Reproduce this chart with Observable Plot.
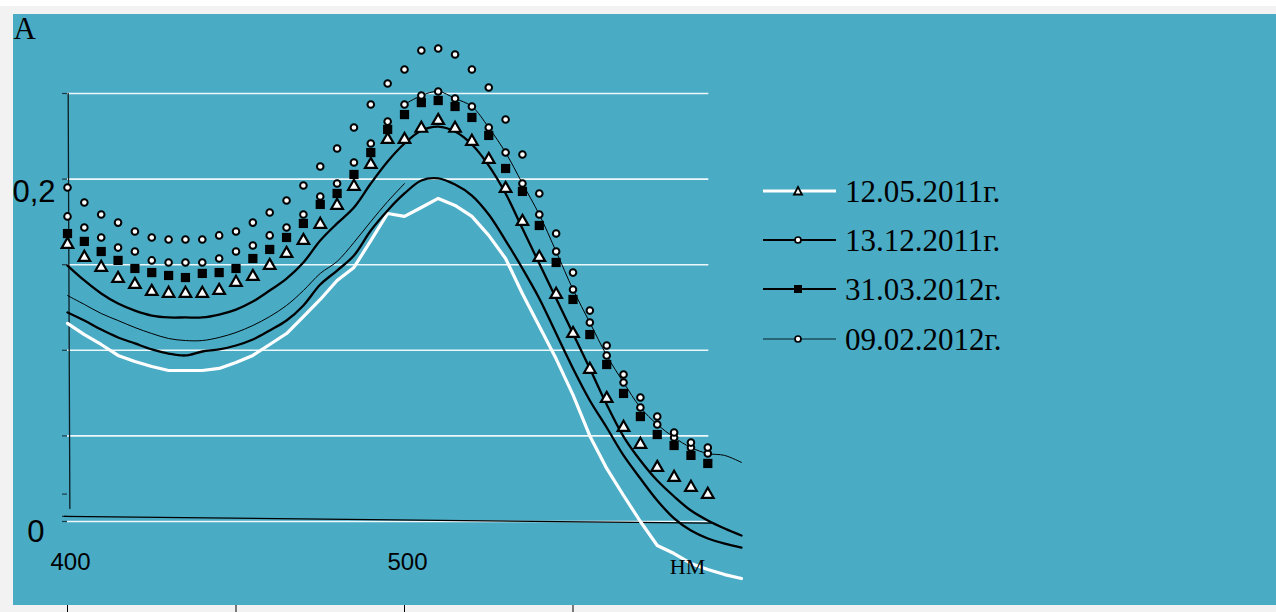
<!DOCTYPE html>
<html>
<head>
<meta charset="utf-8">
<script src="https://cdn.jsdelivr.net/npm/d3@7"></script>
<script src="https://cdn.jsdelivr.net/npm/@observablehq/plot@0.6"></script>
<style>
  html, body { margin: 0; padding: 0; width: 1276px; height: 612px; overflow: hidden; background: #f2f2f2; }
  #topband { position: absolute; left: 0; top: 0; width: 1276px; height: 6px; background: #ffffff; }
  #panel { position: absolute; left: 13px; top: 14px; width: 1263px; height: 591px; background: #4aabc5; }
  #chart { position: absolute; left: 0; top: 0; }
  #legend { position: absolute; left: 763px; top: 0; font-family: "Liberation Serif", "Times New Roman", serif; font-size: 31px; color: #000; }
  .row { position: absolute; left: 0; width: 300px; height: 40px; }
  .row svg { position: absolute; left: 0; top: 0; }
  .row span { position: absolute; left: 82px; top: 1px; line-height: 40px; white-space: nowrap; }
</style>
</head>
<body>
<div id="topband"></div>
<div id="panel"></div>
<div id="chart"></div>
<div id="legend"></div>
<script>
// ---------- data (wavelength, nm ; absorbance A) ----------
const markerNm = [400,405,410,415,420,425,430,435,440,445,450,455,460,465,470,475,480,485,490,495,500,505,510,515,520,525,530,535,540,545,550,555,560,565,570,575,580,585,590];

const triangles12052011 = [0.1618,0.1542,0.1484,0.1419,0.1384,0.1343,0.1332,0.1332,0.1332,0.1349,0.1396,0.1431,0.1495,0.1565,0.1641,0.1735,0.1846,0.1957,0.2085,0.2231,0.2231,0.2296,0.2342,0.2296,0.2220,0.2114,0.1945,0.1752,0.1542,0.1326,0.1098,0.0888,0.0718,0.0549,0.0450,0.0315,0.0257,0.0199,0.0158];

const circles13122011 = [0.1951,0.1863,0.1793,0.1746,0.1694,0.1659,0.1647,0.1647,0.1647,0.1671,0.1694,0.1746,0.1805,0.1875,0.1963,0.2074,0.2179,0.2301,0.2436,0.2558,0.2640,0.2751,0.2763,0.2728,0.2640,0.2535,0.2348,0.2144,0.1916,0.1682,0.1454,0.1232,0.1028,0.0859,0.0724,0.0613,0.0520,0.0461,0.0432];

const squares31032012 = [0.1682,0.1636,0.1577,0.1525,0.1478,0.1454,0.1437,0.1425,0.1449,0.1454,0.1478,0.1536,0.1589,0.1659,0.1741,0.1852,0.1916,0.2027,0.2155,0.2290,0.2377,0.2447,0.2459,0.2424,0.2360,0.2255,0.2062,0.1928,0.1729,0.1513,0.1297,0.1092,0.0917,0.0748,0.0613,0.0508,0.0444,0.0386,0.0339];

const circles09022012 = [0.1782,0.1717,0.1659,0.1600,0.1577,0.1525,0.1513,0.1513,0.1513,0.1536,0.1577,0.1612,0.1671,0.1717,0.1793,0.1898,0.1974,0.2097,0.2208,0.2336,0.2436,0.2488,0.2512,0.2471,0.2424,0.2301,0.2155,0.1974,0.1793,0.1577,0.1355,0.1162,0.0970,0.0812,0.0666,0.0567,0.0491,0.0432,0.0397];

const lineNm = [400,405,410,415,420,425,430,435,440,445,450,455,460,465,470,475,480,485,490,495,500,505,510,515,520,525,530,535,540,545,550,555,560,565,570,575,580,585,590,595,600];

const whiteLine = [0.1157,0.1092,0.1034,0.0970,0.0935,0.0905,0.0882,0.0882,0.0882,0.0894,0.0929,0.0970,0.1034,0.1098,0.1197,0.1297,0.1408,0.1484,0.1641,0.1799,0.1782,0.1834,0.1887,0.1846,0.1782,0.1671,0.1536,0.1330,0.1140,0.0950,0.0740,0.0500,0.0310,0.0152,0.0000,-0.0140,-0.0187,-0.0245,-0.0280,-0.0310,-0.0333];

const blackLineA = [0.1221,0.1174,0.1121,0.1075,0.1040,0.1005,0.0981,0.0970,0.0993,0.1005,0.1028,0.1063,0.1116,0.1174,0.1262,0.1384,0.1466,0.1554,0.1700,0.1817,0.1916,0.1992,0.2004,0.1968,0.1904,0.1793,0.1641,0.1478,0.1303,0.1098,0.0894,0.0707,0.0549,0.0386,0.0251,0.0123,0.0018,-0.0053,-0.0099,-0.0129,-0.0152];

const blackLineB = [0.1495,0.1408,0.1332,0.1273,0.1232,0.1203,0.1192,0.1192,0.1192,0.1209,0.1238,0.1285,0.1349,0.1419,0.1513,0.1641,0.1741,0.1834,0.1974,0.2103,0.2208,0.2284,0.2307,0.2278,0.2202,0.2079,0.1916,0.1711,0.1507,0.1303,0.1098,0.0894,0.0683,0.0496,0.0356,0.0239,0.0146,0.0064,0.0006,-0.0041,-0.0082];

const thinLineNm = [400,405,410,415,420,425,430,435,440,445,450,455,460,465,470,475,480,485,490,495,500];
const thinLine = [0.1320,0.1268,0.1215,0.1174,0.1133,0.1098,0.1069,0.1057,0.1057,0.1075,0.1104,0.1145,0.1197,0.1262,0.1349,0.1449,0.1519,0.1630,0.1752,0.1869,0.1974];

const thin0902Nm = [500,505,510,515,520,525,530,535,540,545,550,555,560,565,570,575,580,585,590,595,600];
const thin0902 = [0.2436,0.2488,0.2512,0.2471,0.2424,0.2301,0.2155,0.1974,0.1793,0.1577,0.1355,0.1162,0.0970,0.0812,0.0666,0.0567,0.0491,0.0432,0.0397,0.0386,0.0345];

const baselineNm = [399, 591];
const baselineA = [0.003, -0.001];
const yAxisNm = [400.2, 400.7];
const yAxisA = [0.25, 0.0076];

const gridValues = [0, 0.05, 0.1, 0.15, 0.2, 0.25];
const yTickValues = [0, 0.003, 0.016, 0.05, 0.1, 0.15, 0.2, 0.25];
const xTickValues = [400, 450, 500, 550];
const xTickLabels = [400, 500];
const yLabelUpper = [{v: 0.2, t: "0,2"}];
const yLabelZero = [{v: 0, t: "0"}];
const seriesNames = ["12.05.2011г.", "13.12.2011г.", "31.03.2012г.", "09.02.2012г."];

// ---------- build tables ----------
const pts = (xs, ys) => xs.map((x, i) => ({x, y: ys[i]}));
const triData = pts(markerNm, triangles12052011);
const c1Data = pts(markerNm, circles13122011);
const sqData = pts(markerNm, squares31032012);
const c2Data = pts(markerNm, circles09022012);

const serif = "Liberation Serif, Times New Roman, serif";
const sans = "Liberation Sans, Arial, sans-serif";

const chart = Plot.plot({
  width: 1276,
  height: 612,
  marginLeft: 67,
  marginRight: 535,
  marginTop: 93,
  marginBottom: 91,
  style: {background: "transparent", overflow: "visible"},
  x: {domain: [400, 600], axis: null},
  y: {domain: [0, 0.25], axis: null},
  marks: [
    Plot.ruleY(gridValues, {y: d => d, x1: 400, x2: 590.3, stroke: "#eef8fb", strokeWidth: 1.6}),
    Plot.axisY(yTickValues, {tickSize: 5, tickFormat: () => "", label: null, stroke: "#1d3c46", strokeWidth: 1.2}),
    Plot.line(pts(yAxisNm, yAxisA), {x: "x", y: "y", stroke: "#0b1c22", strokeWidth: 1.3}),
    Plot.line(pts(baselineNm, baselineA), {x: "x", y: "y", stroke: "#000", strokeWidth: 1.2}),
    Plot.axisX(xTickValues, {tickSize: 8, tickFormat: () => "", label: null, dy: 84, stroke: "#000"}),
    Plot.line(pts(lineNm, whiteLine), {x: "x", y: "y", stroke: "#ffffff", strokeWidth: 3.2, curve: "linear"}),
    Plot.line(pts(thinLineNm, thinLine), {x: "x", y: "y", stroke: "#000", strokeWidth: 1, curve: "catmull-rom"}),
    Plot.line(pts(lineNm, blackLineA), {x: "x", y: "y", stroke: "#000", strokeWidth: 2.3, curve: "catmull-rom"}),
    Plot.line(pts(lineNm, blackLineB), {x: "x", y: "y", stroke: "#000", strokeWidth: 2.3, curve: "catmull-rom"}),
    Plot.line(pts(thin0902Nm, thin0902), {x: "x", y: "y", stroke: "#000", strokeWidth: 1, curve: "catmull-rom"}),
    Plot.dot(triData, {x: "x", y: "y", symbol: "triangle", r: 4.3, fill: "#fff", stroke: "#000", strokeWidth: 2.2}),
    Plot.dot(sqData, {x: "x", y: "y", symbol: "square", r: 5.2, fill: "#000", stroke: "none"}),
    Plot.dot(c2Data, {x: "x", y: "y", symbol: "circle", r: 3.3, fill: "#fff", stroke: "#000", strokeWidth: 2}),
    Plot.dot(c1Data, {x: "x", y: "y", symbol: "circle", r: 3.3, fill: "#fff", stroke: "#000", strokeWidth: 2}),
    Plot.text(yLabelUpper, {y: "v", text: "t", frameAnchor: "left", lineAnchor: "middle", dx: -12, dy: 13, textAnchor: "end", fontFamily: sans, fontSize: 31, fill: "#000"}),
    Plot.text(yLabelZero, {y: "v", text: "t", frameAnchor: "left", lineAnchor: "middle", dx: -23, dy: 11, textAnchor: "end", fontFamily: sans, fontSize: 31, fill: "#000"}),
    Plot.text(xTickLabels, {x: d => d, text: d => String(d), frameAnchor: "bottom", lineAnchor: "middle", dx: 3, dy: 41, fontFamily: sans, fontSize: 24, fill: "#000"}),
    Plot.text(["НМ"], {text: d => d, frameAnchor: "bottom-right", lineAnchor: "middle", textAnchor: "middle", dx: -54, dy: 45, fontFamily: serif, fontSize: 22, fill: "#000"}),
    Plot.text(["A"], {text: d => d, frameAnchor: "top-left", lineAnchor: "middle", dx: -54, dy: -64, textAnchor: "start", fontFamily: serif, fontSize: 31, fill: "#000"})
  ]
});
document.getElementById("chart").appendChild(chart);

// ---------- legend ----------
const legendStyles = [
  {stroke: "#ffffff", width: 3.2, marker: "triangle"},
  {stroke: "#000000", width: 2.2, marker: "circle"},
  {stroke: "#000000", width: 2.2, marker: "square"},
  {stroke: "#1d4e5c", width: 1.3, marker: "circle"}
];
const rowCenters = [191, 240, 289, 339];
const legend = document.getElementById("legend");
seriesNames.forEach((name, i) => {
  const st = legendStyles[i];
  const row = document.createElement("div");
  row.className = "row";
  row.style.top = (rowCenters[i] - 20) + "px";
  let m = "";
  if (st.marker === "triangle") m = `<path d="M35,16 L39,23.5 L31,23.5 Z" fill="#fff" stroke="#000" stroke-width="1.8"/>`;
  if (st.marker === "circle") m = `<circle cx="35" cy="20" r="3" fill="#fff" stroke="#000" stroke-width="1.7"/>`;
  if (st.marker === "square") m = `<rect x="31" y="16" width="8" height="8" fill="#000"/>`;
  row.innerHTML = `<svg width="80" height="40"><line x1="0" x2="73" y1="20" y2="20" stroke="${st.stroke}" stroke-width="${st.width}"/>${m}</svg><span>${name}</span>`;
  legend.appendChild(row);
});
</script>
</body>
</html>
